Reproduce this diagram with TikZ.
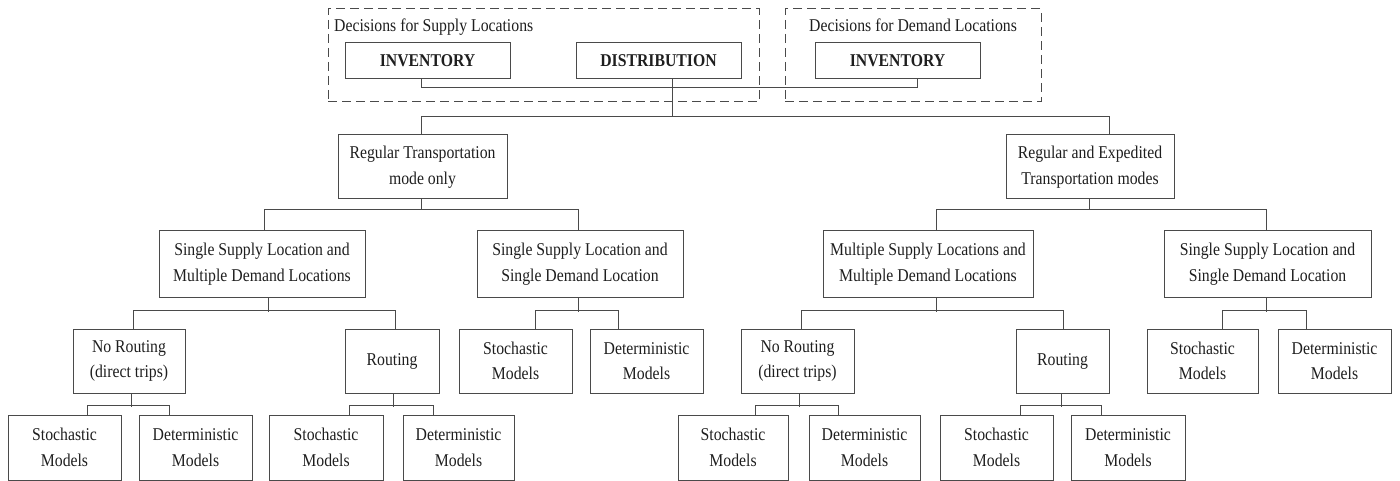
\documentclass[tikz,border=0pt]{standalone}
\usepackage{fontspec}
\setmainfont{Liberation Serif}[FakeStretch=0.875]
\definecolor{linegray}{HTML}{4A4A4A}
\definecolor{inkgray}{HTML}{1E1E1E}
\begin{document}
\begin{tikzpicture}[x=1pt,y=-1pt,
  box/.style={draw=linegray, line width=1pt, align=center, inner sep=0pt,
    text=inkgray, font=\fontsize{18}{25.5}\selectfont},
  bw/.style={minimum width=#1pt},
  bh/.style={minimum height=#1pt},
  topbox/.style={box, bh=36, bw=165, font=\fontsize{18}{20}\selectfont\bfseries},
  lvlone/.style={box, bh=64},
  lvltwo/.style={box, bh=66},
  lvlthree/.style={box, bh=64},
  lvlfour/.style={box, bh=65},
  groupbox/.style={draw=linegray, line width=1pt, dash pattern=on 9pt off 5pt, inner sep=0pt},
  grouplabel/.style={inner sep=0pt, text=inkgray, font=\fontsize{18}{20}\selectfont},
  wire/.style={draw=linegray, line width=1pt}]
\useasboundingbox (0,0) rectangle (1400,481);

% decision groups
\node[groupbox, bw=431, bh=93] (supplygrp) at (543.5,55.5) {};
\node[groupbox, bw=256, bh=93] (demandgrp) at (913,55.5) {};
\node[grouplabel, anchor=base west] (supplylbl) at (334,32) {Decisions for Supply Locations};
\node[grouplabel, anchor=base west] (demandlbl) at (809,32) {Decisions for Demand Locations};
\node[topbox] (invl) at (427.5,61) {INVENTORY};
\node[topbox] (dist) at (658.5,61) {DISTRIBUTION};
\node[topbox] (invr) at (897.5,61) {INVENTORY};

% level 1
\node[lvlone, bw=169] (rt) at (422.5,167) {Regular Transportation\\mode only};
\node[lvlone, bw=168] (re) at (1090,167) {Regular and Expedited\\Transportation modes};

% level 2
\node[lvltwo, bw=206] (ssml) at (262,264) {Single Supply Location and\\Multiple Demand Locations};
\node[lvltwo, bw=206] (sssdl) at (580,264) {Single Supply Location and\\Single Demand Location};
\node[lvltwo, bw=210] (msml) at (928,264) {Multiple Supply Locations and\\Multiple Demand Locations};
\node[lvltwo, bw=207] (sssdr) at (1267.5,264) {Single Supply Location and\\Single Demand Location};

% level 3
\node[lvlthree, bw=112] (nrl) at (129,361) {No Routing\\(direct trips)};
\node[lvlthree, bw=94] (rtgl) at (392,361) {Routing};
\node[lvlthree, bw=113] (stl3) at (515.5,361) {Stochastic\\Models};
\node[lvlthree, bw=113] (dtl3) at (646.5,361) {Deterministic\\Models};
\node[lvlthree, bw=113] (nrr) at (797.5,361) {No Routing\\(direct trips)};
\node[lvlthree, bw=93] (rtgr) at (1062.5,361) {Routing};
\node[lvlthree, bw=111] (str3) at (1202.5,361) {Stochastic\\Models};
\node[lvlthree, bw=113] (dtr3) at (1334.5,361) {Deterministic\\Models};

% level 4
\node[lvlfour, bw=113] (stl1) at (64.5,447.5) {Stochastic\\Models};
\node[lvlfour, bw=113] (dtl1) at (195.5,447.5) {Deterministic\\Models};
\node[lvlfour, bw=114] (stl2) at (326,447.5) {Stochastic\\Models};
\node[lvlfour, bw=111] (dtl2) at (458.5,447.5) {Deterministic\\Models};
\node[lvlfour, bw=110] (str1) at (733,447.5) {Stochastic\\Models};
\node[lvlfour, bw=111] (dtr1) at (864.5,447.5) {Deterministic\\Models};
\node[lvlfour, bw=113] (str2) at (996.5,447.5) {Stochastic\\Models};
\node[lvlfour, bw=114] (dtr2) at (1128,447.5) {Deterministic\\Models};

% connectors: top decisions
\draw[wire] ([xshift=-6.5pt]invl.south) -- ++(0,8) -| ([xshift=19.5pt]invr.south);
\draw[wire] ([xshift=13.5pt]dist.south) -- ++(0,38);
\draw[wire] ([xshift=-1.5pt]rt.north) -- ++(0,-18) -| ([xshift=19pt]re.north);

% connectors: level 1 -> level 2
\draw[wire] ([xshift=-1.5pt]rt.south) -- ++(0,11);
\draw[wire] ([xshift=2pt]ssml.north) -- ++(0,-21) -| ([xshift=-2pt]sssdl.north);
\draw[wire] ([xshift=-1pt]re.south) -- ++(0,11);
\draw[wire] ([xshift=8pt]msml.north) -- ++(0,-21) -| ([xshift=-1.5pt]sssdr.north);

% connectors: level 2 -> level 3
\draw[wire] ([xshift=6pt]ssml.south) -- ++(0,14);
\draw[wire] ([xshift=4pt]nrl.north) -- ++(0,-18) -| ([xshift=3pt]rtgl.north);
\draw[wire] ([xshift=-2pt]sssdl.south) -- ++(0,14);
\draw[wire] ([xshift=19.5pt]stl3.north) -- ++(0,-18) -| ([xshift=-28.5pt]dtl3.north);
\draw[wire] ([xshift=8pt]msml.south) -- ++(0,14);
\draw[wire] ([xshift=3.5pt]nrr.north) -- ++(0,-18) -| ([xshift=0.5pt]rtgr.north);
\draw[wire] ([xshift=-1.5pt]sssdr.south) -- ++(0,14);
\draw[wire] ([xshift=19.5pt]str3.north) -- ++(0,-18) -| ([xshift=-28.5pt]dtr3.north);

% connectors: level 3 -> level 4
\draw[wire] ([xshift=2pt]nrl.south) -- ++(0,13);
\draw[wire] ([xshift=22.5pt]stl1.north) -- ++(0,-9) -| ([xshift=-26.5pt]dtl1.north);
\draw[wire] ([xshift=1pt]rtgl.south) -- ++(0,13);
\draw[wire] ([xshift=23pt]stl2.north) -- ++(0,-9) -| ([xshift=-25.5pt]dtl2.north);
\draw[wire] ([xshift=1.5pt]nrr.south) -- ++(0,13);
\draw[wire] ([xshift=22pt]str1.north) -- ++(0,-9) -| ([xshift=-26.5pt]dtr1.north);
\draw[wire] ([xshift=-1.5pt]rtgr.south) -- ++(0,13);
\draw[wire] ([xshift=23.5pt]str2.north) -- ++(0,-9) -| ([xshift=-27pt]dtr2.north);
\end{tikzpicture}
\end{document}
